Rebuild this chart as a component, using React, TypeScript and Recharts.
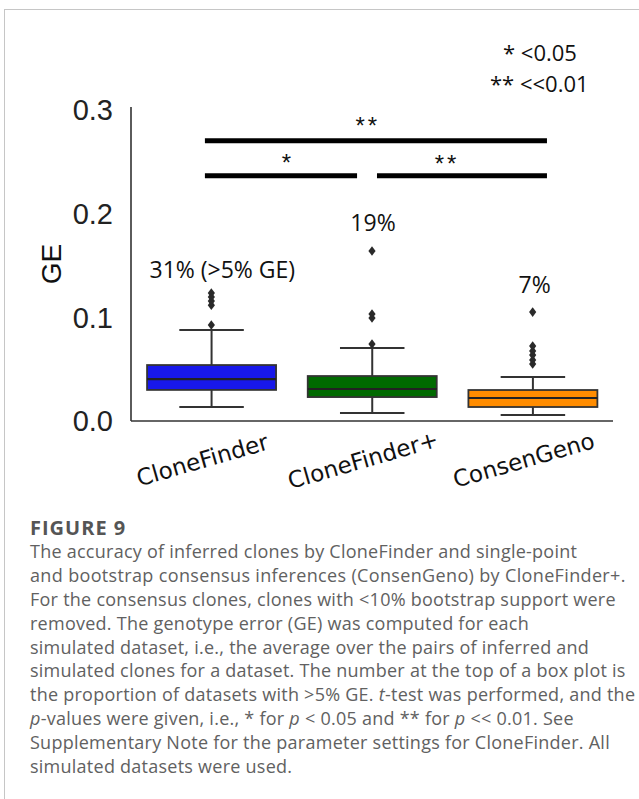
import React from 'react';
import { ComposedChart, Bar, Scatter, XAxis, YAxis, ReferenceLine, ReferenceDot } from 'recharts';

// ---- data ----
const categories = ['CloneFinder', 'CloneFinder+', 'ConsenGeno'];
const whiskerLow = [0.0135, 0.0077, 0.0058];
const q1 = [0.030, 0.0231, 0.0135];
const median = [0.0405, 0.0309, 0.0222];
const q3 = [0.054, 0.0434, 0.0299];
const whiskerHigh = [0.0878, 0.0704, 0.0424];

// outliers: category index, value
const outlierCat = [0, 0, 0, 0, 0, 1, 1, 1, 1, 2, 2, 2, 2, 2, 2];
const outlierVal = [0.0926, 0.1118, 0.1157, 0.1196, 0.1234, 0.0742, 0.0994, 0.1032, 0.164, 0.055, 0.0588, 0.0636, 0.0675, 0.0723, 0.1051];

const pctLabels = ['31% (>5% GE)', '19%', '7%'];
const pctLabelY = [0.1456, 0.191, 0.131];

// significance bars (positions on a 0..3 category-index axis)
const sigStart = [0.46, 0.46, 1.531];
const sigEnd = [2.589, 1.407, 2.589];
const sigY = [0.2705, 0.2367, 0.2367];
const sigText = ['**', '*', '**'];
const sigTextX = [1.474, 0.977, 1.967];
const sigTextY = [0.2854, 0.2498, 0.2489];

const yTicks = [0, 0.1, 0.2, 0.3];

// ---- styles ----
const boxColors = ['#1818ea', '#006a00', '#ff8c00'];
const pctDx = [11, 1, 2];
const edge = '#333333';

const tableData = categories.map((c, i) => ({
  cat: c,
  lo: whiskerLow[i],
  q1: q1[i],
  med: median[i],
  q3: q3[i],
  hi: whiskerHigh[i],
  idx: i,
}));

const outlierData = outlierVal.map((v, i) => ({ xi: outlierCat[i] + 0.5, v }));
const pctData = pctLabels.map((t, i) => ({ t, y: pctLabelY[i], cat: categories[i] }));

const BoxShape = (props: any) => {
  const { x, y, width, height, payload } = props;
  if (!payload || !height) return null;
  const k = height / payload.q3;
  const base = y + height;
  const yOf = (v: number) => base - v * k;
  const cx = x + width / 2;
  const capHalf = width / 4;
  const color = boxColors[payload.idx];
  return (
    <g>
      <line x1={cx} x2={cx} y1={yOf(payload.lo)} y2={yOf(payload.q1)} stroke={edge} strokeWidth={2} />
      <line x1={cx} x2={cx} y1={yOf(payload.q3)} y2={yOf(payload.hi)} stroke={edge} strokeWidth={2} />
      <line x1={cx - capHalf} x2={cx + capHalf} y1={yOf(payload.lo)} y2={yOf(payload.lo)} stroke={edge} strokeWidth={2} />
      <line x1={cx - capHalf} x2={cx + capHalf} y1={yOf(payload.hi)} y2={yOf(payload.hi)} stroke={edge} strokeWidth={2} />
      <rect x={x} y={yOf(payload.q3)} width={width} height={yOf(payload.q1) - yOf(payload.q3)} fill={color} stroke={edge} strokeWidth={1.8} />
      <line x1={x} x2={x + width} y1={yOf(payload.med)} y2={yOf(payload.med)} stroke="#222" strokeWidth={2.2} />
    </g>
  );
};

const Diamond = (props: any) => {
  const { cx, cy } = props;
  if (cx == null || cy == null) return null;
  return <path d={`M${cx},${cy - 4.8} L${cx + 3.6},${cy} L${cx},${cy + 4.8} L${cx - 3.6},${cy} Z`} fill="#2a2a2a" />;
};

const XTick = (props: any) => {
  const { x, y, payload } = props;
  const tx = x - 9;
  const ty = y + 31;
  return (
    <text
      x={tx}
      y={ty}
      textAnchor="middle"
      dominantBaseline="central"
      transform={`rotate(-16, ${tx}, ${ty})`}
      fontFamily="DejaVu Sans"
      fontSize={23}
      fill="#111"
    >
      {payload.value}
    </text>
  );
};

const annotFont = { fontFamily: 'Open Sans', fontSize: 23, fill: '#111' };

export default function App() {
  return (
    <div style={{ position: 'absolute', left: 0, top: 0, width: 639, height: 799, background: '#fff', overflow: 'hidden' }}>
      <div style={{ position: 'absolute', left: 4, top: 9, width: 700, height: 900, borderTop: '1px solid #c6c6c6', borderLeft: '1px solid #c6c6c6' }} />
      <div style={{ position: 'absolute', left: 0, top: 0 }}>
        <ComposedChart width={639} height={500} data={tableData} margin={{ top: 107, right: 26, left: 51, bottom: 0 }}>
          <XAxis
            dataKey="cat"
            type="category"
            height={79}
            axisLine={{ stroke: edge, strokeWidth: 1.6 }}
            tickLine={false}
            tick={<XTick />}
            interval={0}
          />
          <XAxis xAxisId="num" type="number" dataKey="xi" domain={[0, 3]} hide allowDataOverflow />
          <YAxis
            type="number"
            domain={[0, 0.303]}
            allowDataOverflow
            ticks={yTicks}
            tickFormatter={(v: number) => v.toFixed(1)}
            width={80}
            axisLine={{ stroke: edge, strokeWidth: 1.6 }}
            tickLine={false}
            tickMargin={12}
            tick={{ fontFamily: 'Liberation Sans', fontSize: 29, fill: '#222' }}
            label={{ value: 'GE', angle: -90, position: 'insideLeft', offset: 0, style: { textAnchor: 'middle', fontFamily: 'Liberation Sans', fontSize: 28, fill: '#111' } }}
          />
          <YAxis yAxisId="r" orientation="right" domain={[0, 0.303]} width={0} tick={false} tickLine={false} axisLine={{ stroke: edge, strokeWidth: 1.6 }} />
          <Bar dataKey="q3" barCategoryGap="10%" shape={<BoxShape />} isAnimationActive={false} />
          <Scatter xAxisId="num" data={outlierData} dataKey="v" shape={<Diamond />} isAnimationActive={false} />
          {sigY.map((yv, i) => (
            <ReferenceLine
              key={'sl' + i}
              xAxisId="num"
              segment={[{ x: sigStart[i], y: yv }, { x: sigEnd[i], y: yv }]}
              stroke="#000"
              strokeWidth={5}
              ifOverflow="visible"
            />
          ))}
          {sigText.map((t, i) => (
            <ReferenceDot
              key={'st' + i}
              xAxisId="num"
              x={sigTextX[i]}
              y={sigTextY[i]}
              r={0}
              fill="none"
              stroke="none"
              ifOverflow="visible"
              label={{ value: t, position: 'center', style: { fontFamily: 'Liberation Sans', fontSize: 24, fill: '#111', letterSpacing: 3 } }}
            />
          ))}
          {pctData.map((d, i) => (
            <ReferenceDot
              key={'pl' + i}
              x={d.cat}
              y={d.y}
              r={0}
              fill="none"
              stroke="none"
              ifOverflow="visible"
              label={{ value: d.t, position: 'center', dx: pctDx[i], style: annotFont }}
            />
          ))}
        </ComposedChart>
      </div>
      <div style={{ position: 'absolute', left: 503, top: 38, fontFamily: 'Open Sans', fontSize: 22, lineHeight: '28px', color: '#111', whiteSpace: 'nowrap' }}>* &lt;0.05</div>
      <div style={{ position: 'absolute', left: 490, top: 69, fontFamily: 'Open Sans', fontSize: 22, lineHeight: '28px', color: '#111', whiteSpace: 'nowrap' }}>** &lt;&lt;0.01</div>
      <div style={{ position: 'absolute', left: 30, top: 516, fontFamily: 'Open Sans', fontSize: 18, letterSpacing: '0.25px', lineHeight: '23.9px', color: '#616161', whiteSpace: 'nowrap' }}>
        <div style={{ fontWeight: 700, fontSize: 20, letterSpacing: '1px', color: '#555' }}>FIGURE 9</div>
        <div>The accuracy of inferred clones by CloneFinder and single-point</div>
        <div style={{ letterSpacing: '0.35px' }}>and bootstrap consensus inferences (ConsenGeno) by CloneFinder+.</div>
        <div>For the consensus clones, clones with &lt;10% bootstrap support were</div>
        <div>removed. The genotype error (GE) was computed for each</div>
        <div>simulated dataset, i.e., the average over the pairs of inferred and</div>
        <div>simulated clones for a dataset. The number at the top of a box plot is</div>
        <div>the proportion of datasets with &gt;5% GE. <i>t</i>-test was performed, and the</div>
        <div><i>p</i>-values were given, i.e., * for <i>p</i> &lt; 0.05 and ** for <i>p</i> &lt;&lt; 0.01. See</div>
        <div>Supplementary Note for the parameter settings for CloneFinder. All</div>
        <div>simulated datasets were used.</div>
      </div>
    </div>
  );
}
